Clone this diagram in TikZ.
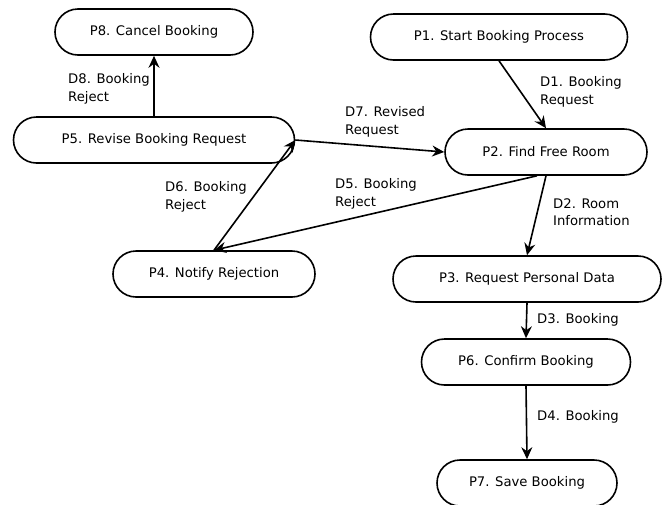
\documentclass[tikz,border=0pt]{standalone}
\usepackage{fontspec}
\setmainfont{DejaVu Sans}
\usetikzlibrary{arrows.meta,positioning}

\begin{document}
\begin{tikzpicture}[
  x=1pt, y=-1pt,
  font=\fontsize{13.2}{17.5}\selectfont,
  proc/.style={draw, line width=1.6pt, rounded corners=23pt,
               minimum height=46pt, inner sep=0pt},
  lbl/.style={anchor=west, align=left, inner sep=0pt},
  arr/.style={-{Stealth[length=12pt, width=11pt, inset=4pt]}, line width=1.6pt}
]
\useasboundingbox (0,0) rectangle (663,504);
\node[proc, minimum width=198pt] (p8) at (154,32) {P8. Cancel Booking};
\node[proc, minimum width=257pt] (p1) at (499,37) {P1. Start Booking Process};
\node[proc, minimum width=281pt] (p5) at (154,140) {P5. Revise Booking Request};
\node[proc, minimum width=202pt] (p2) at (546,152) {P2. Find Free Room};
\node[proc, minimum width=202pt] (p4) at (214,274) {P4. Notify Rejection};
\node[proc, minimum width=268pt] (p3) at (527,279) {P3. Request Personal Data};
\node[proc, minimum width=209pt] (p6) at (526,362) {P6. Confirm Booking};
\node[proc, minimum width=180pt] (p7) at (527,483) {P7. Save Booking};
% data flow labels
\node[lbl] (d1) at (540,92) {D1. Booking\\Request};
\node[lbl] (d2) at (553,212) {D2. Room\\Information};
\node[lbl] (d3) at (537,320) {D3. Booking};
\node[lbl] (d4) at (537,417) {D4. Booking};
\node[lbl] (d5) at (335,194) {D5. Booking\\Reject};
\node[lbl] (d6) at (165,197) {D6. Booking\\Reject};
\node[lbl] (d7) at (345,122) {D7. Revised\\Request};
\node[lbl] (d8) at (68,89) {D8. Booking\\Reject};
\foreach \a/\b in {p1.south/p2.north, p2.south/p3.north, p3.south/p6.north,
                   p6.south/p7.north, p4.north/p5.east, p5.east/p2.west,
                   p5.north/p8.south} {
  \draw[arr] (\a) -- (\b);
}
\draw[arr] ([xshift=-9pt]p2.south) -- (p4.north);
\end{tikzpicture}
\end{document}
